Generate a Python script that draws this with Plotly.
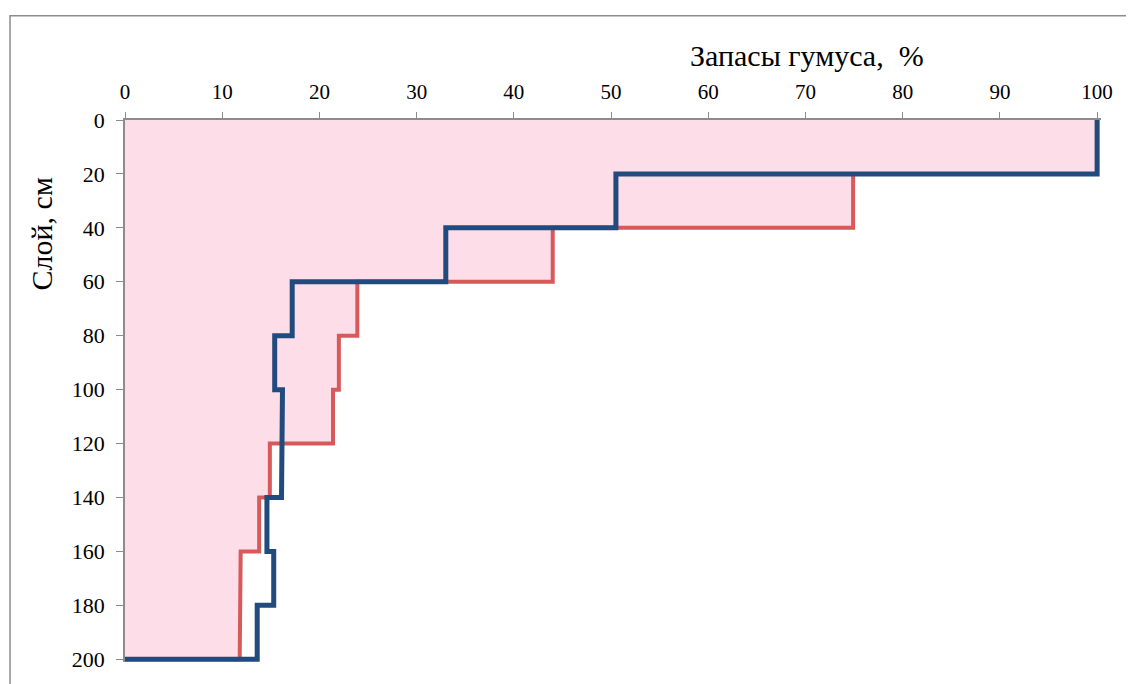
import plotly.graph_objects as go

# Data
depth_edges = [0, 20, 40, 60, 80, 100, 120, 140, 160, 180, 200]
red_values = [100, 74.9, 44.0, 23.9, 22.0, 21.4, 14.9, 13.8, 11.9, 11.8]
blue_values = [100, 50.5, 33.0, 17.2, 15.4, 16.2, 16.1, 14.6, 15.3, 13.6]
x_ticks = [0, 10, 20, 30, 40, 50, 60, 70, 80, 90, 100]
y_ticks = [0, 20, 40, 60, 80, 100, 120, 140, 160, 180, 200]
x_title = "Запасы гумуса,\u00a0 %"
y_title = "Слой, см"


def step_path(values, edges):
    xs, ys = [], []
    for i, v in enumerate(values):
        xs += [v, v]
        ys += [edges[i], edges[i + 1]]
    xs.append(0)
    ys.append(edges[-1])
    return xs, ys


rx, ry = step_path(red_values, depth_edges)
bx, by = step_path(blue_values, depth_edges)

fig = go.Figure()
# pink area
fig.add_trace(go.Scatter(
    x=[0] + rx, y=[0] + ry, fill="toself", fillcolor="#FDDDE7",
    mode="lines", line=dict(width=0), hoverinfo="skip", showlegend=False))
# red line
fig.add_trace(go.Scatter(
    x=rx, y=ry, mode="lines", line=dict(color="#D75A5B", width=4),
    showlegend=False))
# blue line
fig.add_trace(go.Scatter(
    x=bx, y=by, mode="lines", line=dict(color="#214A7D", width=5),
    showlegend=False))

font_family = "Liberation Serif"
fig.update_layout(
    width=1126, height=676,
    margin=dict(l=117, r=33, t=112, b=16),
    paper_bgcolor="white", plot_bgcolor="white",
    font=dict(family=font_family, color="black", size=21),
    showlegend=False,
    xaxis=dict(
        side="top", range=[0, 100.4], tickvals=x_ticks,
        showgrid=False, zeroline=False, showline=True,
        linecolor="#8C8C8C", linewidth=1.5, ticks="outside", ticklen=6,
        ticklabelstandoff=5,
        tickcolor="#8C8C8C", tickfont=dict(size=21, family=font_family, color="black")),
    yaxis=dict(
        range=[201, 0], tickvals=y_ticks,
        showgrid=False, zeroline=False, showline=True,
        linecolor="#8C8C8C", linewidth=1.5, ticks="outside", ticklen=7,
        ticklabelstandoff=7,
        tickcolor="#8C8C8C", tickfont=dict(size=22, family=font_family, color="black")),
    annotations=[
        dict(text=x_title, xref="paper", yref="paper", x=0.699, y=1.119,
             showarrow=False, xanchor="center", yanchor="middle",
             font=dict(size=30, family=font_family, color="black")),
        dict(text=y_title, xref="paper", yref="paper", x=-0.086, y=0.789,
             showarrow=False, xanchor="center", yanchor="middle", textangle=-90,
             font=dict(size=30, family=font_family, color="black")),
    ],
    shapes=[dict(type="rect", xref="paper", yref="paper",
                 x0=-0.1178, y0=-0.3, x1=1.3, y1=1.1924,
                 line=dict(color="#8C8C8C", width=1.5), fillcolor="rgba(0,0,0,0)",
                 layer="below")],
)

fig.write_html("out.html")
